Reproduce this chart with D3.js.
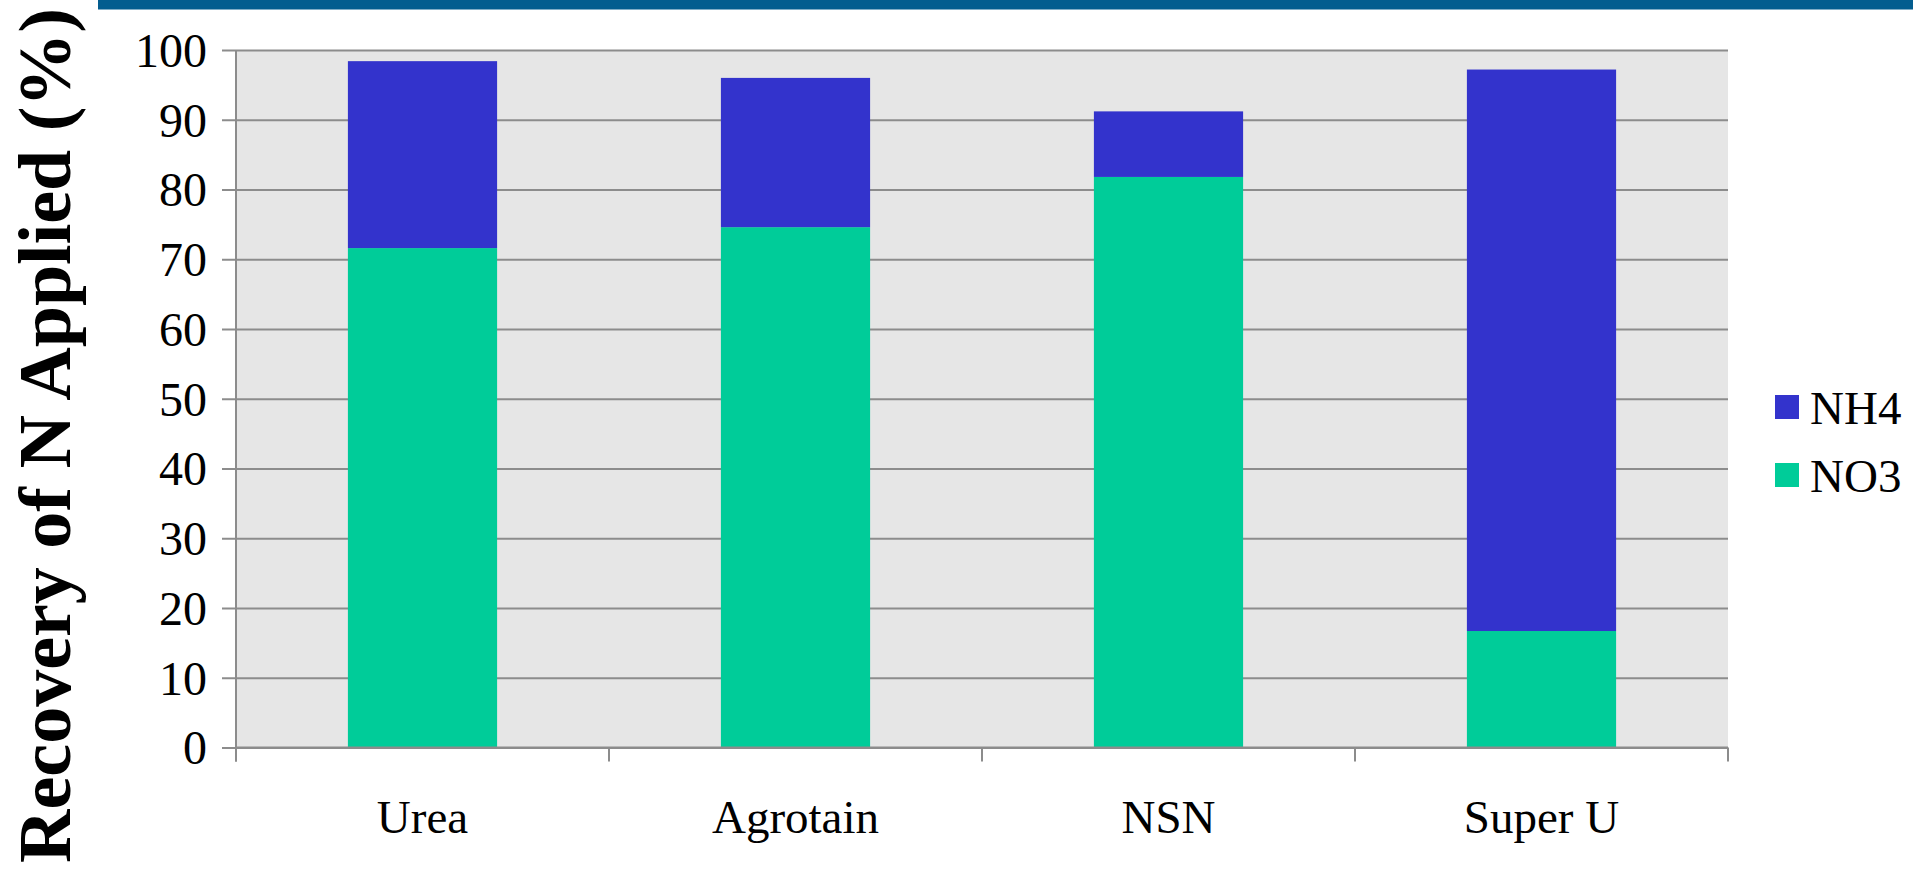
<!DOCTYPE html>
<html>
<head>
<meta charset="utf-8">
<script src="https://cdn.jsdelivr.net/npm/d3@7"></script>
<style>
  html, body { margin: 0; padding: 0; background: #fff; }
  svg { display: block; }
  svg text { font-family: "Liberation Serif", "Times New Roman", serif; fill: #000; }
</style>
</head>
<body>
<svg id="chart" width="1913" height="869"></svg>
<script>
// Recovery of applied N, split into nitrate and ammonium fractions
const categories = ["Urea", "Agrotain", "NSN", "Super U"];
const no3Values = [71.6, 74.6, 81.8, 16.7];
const nh4Values = [26.8, 21.4, 9.4, 80.5];
const seriesNames = ["NH4", "NO3"];
const seriesColors = { NH4: "#3333CC", NO3: "#00CC99" };
const yTicks = [0, 10, 20, 30, 40, 50, 60, 70, 80, 90, 100];

const serif = "'Liberation Serif', 'Times New Roman', serif";
const svg = d3.select("#chart");
const W = 1913, H = 869;
const plot = { left: 236, right: 1728, top: 50, bottom: 747.5 };

// header rule
svg.append("rect")
  .attr("x", 98).attr("y", 0)
  .attr("width", W - 98).attr("height", 9.5)
  .attr("fill", "#035D8F");

const x = d3.scaleBand()
  .domain(categories)
  .range([plot.left, plot.right])
  .paddingInner(0.6)
  .paddingOuter(0.3);

const y = d3.scaleLinear()
  .domain([0, 100])
  .range([plot.bottom, plot.top]);

// plot area
svg.append("rect")
  .attr("x", plot.left).attr("y", plot.top)
  .attr("width", plot.right - plot.left)
  .attr("height", plot.bottom - plot.top)
  .attr("fill", "#E6E6E6");

// gridlines with outward ticks
const yAxis = d3.axisLeft(y)
  .tickValues(yTicks)
  .tickSize(-(plot.right - plot.left))
  .tickPadding(29)
  .tickFormat(d3.format("d"));

const gy = svg.append("g")
  .attr("transform", `translate(${plot.left},0)`)
  .call(yAxis)
  .attr("font-family", null)
  .attr("font-size", null);
gy.select(".domain").remove();
gy.selectAll(".tick line")
  .attr("x1", -14)
  .attr("stroke", "#8C8C8C")
  .attr("stroke-width", 2);
gy.selectAll(".tick text")
  .style("font-family", serif)
  .style("font-size", "48px")
  .attr("fill", "#000")
  .attr("dy", "0.34em");

// stacked bars
const rows = categories.map((c, i) => ({ cat: c, NO3: no3Values[i], NH4: nh4Values[i] }));
const stack = d3.stack().keys(["NO3", "NH4"]);
const layers = stack(rows);

svg.append("g").selectAll("g")
  .data(layers)
  .join("g")
  .attr("fill", d => seriesColors[d.key])
  .selectAll("rect")
  .data(d => d)
  .join("rect")
  .attr("x", d => x(d.data.cat))
  .attr("width", x.bandwidth())
  .attr("y", d => y(d[1]))
  .attr("height", d => y(d[0]) - y(d[1]));

// value axis line
svg.append("line")
  .attr("x1", plot.left).attr("x2", plot.left)
  .attr("y1", plot.top).attr("y2", plot.bottom + 14)
  .attr("stroke", "#8C8C8C").attr("stroke-width", 2);

// category axis with boundary ticks
const boundaries = d3.range(categories.length + 1)
  .map(i => plot.left + i * (plot.right - plot.left) / categories.length);
const gx = svg.append("g");
gx.append("line")
  .attr("x1", plot.left).attr("x2", plot.right)
  .attr("y1", plot.bottom).attr("y2", plot.bottom)
  .attr("stroke", "#8C8C8C").attr("stroke-width", 2);
gx.selectAll("line.tk")
  .data(boundaries)
  .join("line")
  .attr("class", "tk")
  .attr("x1", d => d).attr("x2", d => d)
  .attr("y1", plot.bottom).attr("y2", plot.bottom + 14)
  .attr("stroke", "#8C8C8C").attr("stroke-width", 2);
gx.selectAll("text")
  .data(categories)
  .join("text")
  .attr("x", d => x(d) + x.bandwidth() / 2)
  .attr("y", 833)
  .attr("text-anchor", "middle")
  .style("font-size", "47px")
  .text(d => d);

// legend
const legend = svg.append("g");
seriesNames.forEach((name, i) => {
  const g = legend.append("g").attr("transform", `translate(1775,${395 + i * 68})`);
  g.append("rect").attr("width", 24).attr("height", 24).attr("fill", seriesColors[name]);
  g.append("text").attr("x", 35).attr("y", 29).style("font-size", "47px").text(name);
});

// value axis title
svg.append("text")
  .attr("transform", "translate(70,863) rotate(-90)")
  .style("font-size", "74px")
  .style("font-weight", "bold")
  .text("Recovery of N Applied (%)");
</script>
</body>
</html>
